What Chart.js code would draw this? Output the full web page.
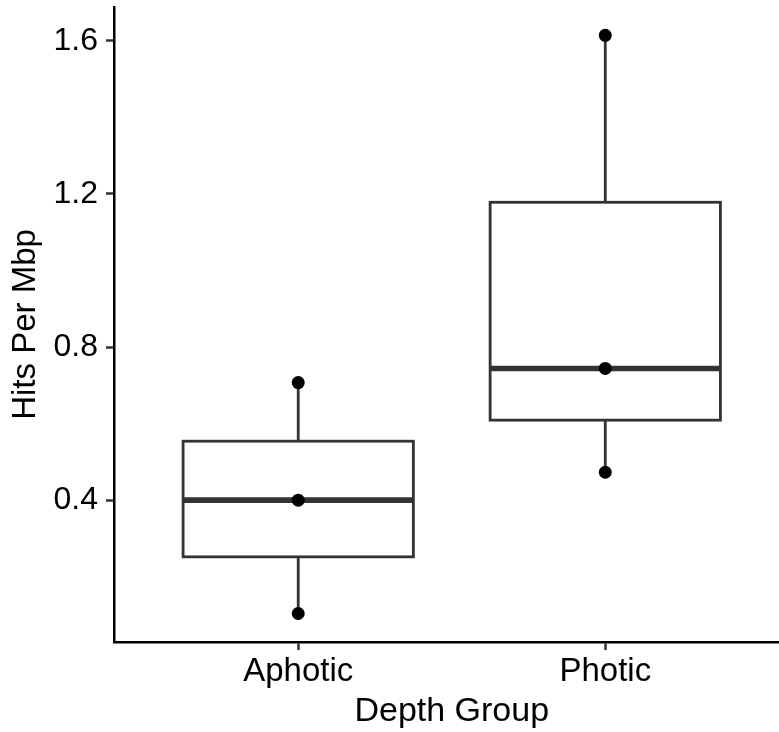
<!DOCTYPE html>
<html>
<head>
<meta charset="utf-8">
<script src="https://cdn.jsdelivr.net/npm/chart.js@4.4.1/dist/chart.umd.min.js"></script>
<style>
  html, body { margin: 0; padding: 0; background: #ffffff; overflow: hidden; }
  #wrap { width: 779px; height: 732px; overflow: hidden; }
  #c { display: block; }
</style>
</head>
<body>
<div id="wrap"><canvas id="c" width="796" height="732"></canvas></div>
<script>
// ---- data ----
const categories = ['Aphotic', 'Photic'];
const aphoticPoints = [0.104, 0.400, 0.707];
const photicPoints = [0.473, 0.744, 1.614];
const whiskerLow = [0.104, 0.473];
const q1 = [0.252, 0.609];
const median = [0.400, 0.744];
const q3 = [0.554, 1.178];
const whiskerHigh = [0.707, 1.614];
const yTickValues = [0.4, 0.8, 1.2, 1.6];
const yTickLabels = ['0.4', '0.8', '1.2', '1.6'];
const xTickValues = [1, 2];

const FONT = "'Liberation Sans', Arial, Helvetica, sans-serif";
const BOX_WIDTH = 0.75;

const boxPlugin = {
  id: 'boxes',
  beforeDatasetsDraw(chart) {
    const ctx = chart.ctx;
    const xs = chart.scales.x, ys = chart.scales.y;
    ctx.save();
    for (let i = 0; i < categories.length; i++) {
      const xc = xs.getPixelForValue(xTickValues[i]);
      const xl = xs.getPixelForValue(xTickValues[i] - BOX_WIDTH / 2);
      const xr = xs.getPixelForValue(xTickValues[i] + BOX_WIDTH / 2);
      const yLo = ys.getPixelForValue(whiskerLow[i]);
      const yQ1 = ys.getPixelForValue(q1[i]);
      const yMed = ys.getPixelForValue(median[i]);
      const yQ3 = ys.getPixelForValue(q3[i]);
      const yHi = ys.getPixelForValue(whiskerHigh[i]);
      ctx.strokeStyle = '#333333';
      ctx.lineCap = 'butt';
      ctx.lineJoin = 'miter';
      ctx.lineWidth = 2.8;
      ctx.beginPath();
      ctx.moveTo(xc, yQ3); ctx.lineTo(xc, yHi);
      ctx.moveTo(xc, yQ1); ctx.lineTo(xc, yLo);
      ctx.stroke();
      ctx.fillStyle = '#ffffff';
      ctx.fillRect(xl, yQ3, xr - xl, yQ1 - yQ3);
      ctx.strokeRect(xl, yQ3, xr - xl, yQ1 - yQ3);
      ctx.lineWidth = 5.6;
      ctx.beginPath();
      ctx.moveTo(xl, yMed); ctx.lineTo(xr, yMed);
      ctx.stroke();
    }
    ctx.restore();
  }
};

const pointData = [];
aphoticPoints.forEach(v => pointData.push({ x: xTickValues[0], y: v }));
photicPoints.forEach(v => pointData.push({ x: xTickValues[1], y: v }));

function noEdgePadding(scale) {
  scale.paddingTop = 0; scale.paddingBottom = 0;
  scale.paddingLeft = 0; scale.paddingRight = 0;
}

new Chart(document.getElementById('c'), {
  type: 'scatter',
  data: {
    datasets: [{
      data: pointData,
      pointRadius: 6.5,
      pointHoverRadius: 6.5,
      backgroundColor: '#000000',
      borderWidth: 0
    }]
  },
  options: {
    responsive: false,
    animation: false,
    devicePixelRatio: 1,
    layout: { padding: { top: 7, right: 0, bottom: 0, left: 0 } },
    plugins: { legend: { display: false }, tooltip: { enabled: false } },
    scales: {
      x: {
        type: 'linear',
        min: 0.4,
        max: 2.6,
        afterBuildTicks(scale) { scale.ticks = xTickValues.map(v => ({ value: v })); },
        afterFit(scale) { scale.height = 90; noEdgePadding(scale); },
        ticks: {
          autoSkip: false,
          maxRotation: 0,
          padding: 2,
          color: '#000000',
          font: { family: FONT, size: 33 },
          callback: (v) => categories[xTickValues.indexOf(v)]
        },
        grid: { drawOnChartArea: false, drawTicks: true, tickLength: 8, tickColor: '#333333', tickWidth: 2.5 },
        border: { display: true, color: '#000000', width: 2.5 },
        title: {
          display: true, text: 'Depth Group', color: '#000000',
          font: { family: FONT, size: 34, lineHeight: 1.2 },
          padding: { top: 0, bottom: 0 }
        }
      },
      y: {
        type: 'linear',
        min: 0.0296,
        max: 1.688,
        afterBuildTicks(scale) { scale.ticks = yTickValues.map(v => ({ value: v })); },
        afterFit(scale) { scale.width = 114; noEdgePadding(scale); },
        ticks: {
          autoSkip: false,
          padding: 8,
          color: '#000000',
          font: { family: FONT, size: 32 },
          callback: (v) => yTickLabels[yTickValues.indexOf(v)]
        },
        grid: { drawOnChartArea: false, drawTicks: true, tickLength: 8, tickColor: '#333333', tickWidth: 2.5 },
        border: { display: true, color: '#000000', width: 2.5 },
        title: {
          display: true, text: 'Hits Per Mbp', color: '#000000',
          font: { family: FONT, size: 33, lineHeight: 1.2 },
          padding: { top: 6, bottom: 0 }
        }
      }
    }
  },
  plugins: [boxPlugin]
});
</script>
</body>
</html>
